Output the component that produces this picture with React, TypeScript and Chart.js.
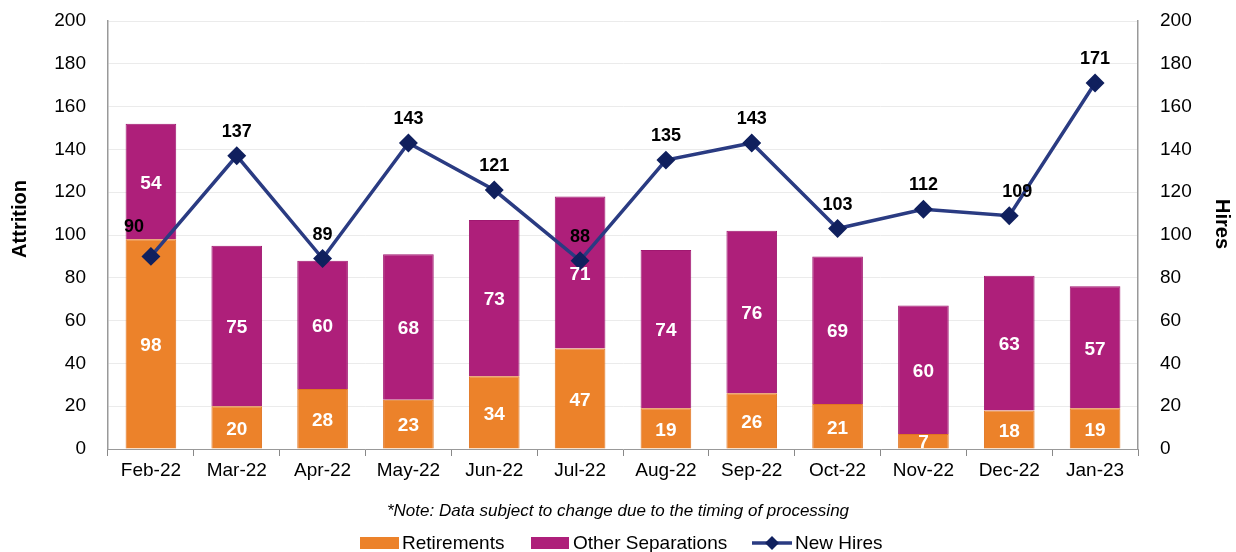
import React, { useEffect, useRef } from "react";
import { Chart, registerables } from "chart.js";

Chart.register(...registerables);

const categories = ["Feb-22", "Mar-22", "Apr-22", "May-22", "Jun-22", "Jul-22", "Aug-22", "Sep-22", "Oct-22", "Nov-22", "Dec-22", "Jan-23"];
const retirements = [98, 20, 28, 23, 34, 47, 19, 26, 21, 7, 18, 19];
const otherSeparations = [54, 75, 60, 68, 73, 71, 74, 76, 69, 60, 63, 57];
const newHires = [90, 137, 89, 143, 121, 88, 135, 143, 103, 112, 109, 171];
const noteText = "*Note: Data subject to change due to the timing of processing";

const ORANGE = "#EC822A";
const MAGENTA = "#AE1F7A";
const NAVY_LINE = "#2A3B82";
const NAVY_PT = "#10205E";
const FONT = "'Liberation Sans', Arial, sans-serif";

const labelPlugin = {
  id: "labels",
  afterDatasetsDraw(chart: any) {
    const ctx = chart.ctx;
    ctx.save();
    ctx.font = `bold 19px ${FONT}`;
    ctx.textAlign = "center";
    ctx.textBaseline = "middle";
    [0, 1].forEach((di) => {
      const meta = chart.getDatasetMeta(di);
      meta.data.forEach((bar: any, i: number) => {
        const v = chart.data.datasets[di].data[i];
        const p = bar.getProps(["x", "y", "base"], true);
        ctx.fillStyle = "#ffffff";
        ctx.fillText(String(v), p.x, (p.y + p.base) / 2 + 2);
      });
    });
    ctx.font = `bold 18px ${FONT}`;
    const lm = chart.getDatasetMeta(2);
    lm.data.forEach((pt: any, i: number) => {
      const v = chart.data.datasets[2].data[i];
      ctx.fillStyle = "#000000";
      let x = pt.x;
      let y = pt.y - 24;
      if (i === 0) { x = pt.x - 17; y = pt.y - 29; }
      if (i === 10) { x = pt.x + 8; }
      ctx.fillText(String(v), x, y);
    });
    ctx.restore();
  },
  afterDraw(chart: any) {
    const ctx = chart.ctx;
    ctx.save();
    ctx.fillStyle = "#000";
    ctx.font = `bold 20px ${FONT}`;
    ctx.textAlign = "center";
    ctx.textBaseline = "middle";
    ctx.save();
    ctx.translate(20, 219);
    ctx.rotate(-Math.PI / 2);
    ctx.fillText("Attrition", 0, 0);
    ctx.restore();
    ctx.save();
    ctx.translate(1222, 224);
    ctx.rotate(Math.PI / 2);
    ctx.fillText("Hires", 0, 0);
    ctx.restore();
    ctx.font = `italic 17px ${FONT}`;
    ctx.fillText(noteText, 618, 511);
    ctx.font = `19px ${FONT}`;
    ctx.textAlign = "left";
    const y = 543;
    ctx.fillStyle = ORANGE;
    ctx.fillRect(360, y - 6, 39, 12);
    ctx.fillStyle = "#000";
    ctx.fillText("Retirements", 402, y + 1);
    ctx.fillStyle = MAGENTA;
    ctx.fillRect(531, y - 6, 38, 12);
    ctx.fillStyle = "#000";
    ctx.fillText("Other Separations", 573, y + 1);
    ctx.strokeStyle = NAVY_LINE;
    ctx.lineWidth = 3.5;
    ctx.beginPath();
    ctx.moveTo(752, y);
    ctx.lineTo(792, y);
    ctx.stroke();
    ctx.fillStyle = NAVY_PT;
    ctx.beginPath();
    ctx.moveTo(772, y - 7);
    ctx.lineTo(779, y);
    ctx.lineTo(772, y + 7);
    ctx.lineTo(765, y);
    ctx.closePath();
    ctx.fill();
    ctx.fillStyle = "#000";
    ctx.fillText("New Hires", 795, y + 1);
    ctx.restore();
  },
};

export default function App() {
  const ref = useRef<HTMLCanvasElement>(null);
  useEffect(() => {
    document.body.style.margin = "0";
    const chart = new Chart(ref.current as HTMLCanvasElement, {
      type: "bar",
      data: {
        labels: categories,
        datasets: [
          {
            type: "bar",
            label: "Retirements",
            data: retirements,
            backgroundColor: ORANGE,
            borderColor: "#E07520",
            borderWidth: 1,
            yAxisID: "y",
            stack: "s",
            barPercentage: 0.59,
            categoryPercentage: 1,
            order: 2,
          },
          {
            type: "bar",
            label: "Other Separations",
            data: otherSeparations,
            backgroundColor: MAGENTA,
            borderColor: "#A01870",
            borderWidth: 1,
            yAxisID: "y",
            stack: "s",
            barPercentage: 0.59,
            categoryPercentage: 1,
            order: 2,
          },
          {
            type: "line",
            label: "New Hires",
            data: newHires,
            borderColor: NAVY_LINE,
            borderWidth: 3.5,
            pointStyle: "rectRot",
            pointRadius: 7,
            pointBackgroundColor: NAVY_PT,
            pointBorderColor: NAVY_PT,
            yAxisID: "y1",
            tension: 0,
            order: 1,
          } as any,
        ],
      },
      options: {
        responsive: false,
        animation: false,
        layout: { padding: { top: 21, left: 0, right: 0, bottom: 0 } },
        plugins: { legend: { display: false }, tooltip: { enabled: false } },
        scales: {
          x: {
            stacked: true,
            offset: true,
            grid: { offset: true, drawOnChartArea: false, drawTicks: true, tickLength: 7, color: "#888" },
            border: { color: "#999" },
            ticks: { color: "#000", font: { family: FONT, size: 19 }, padding: 3, maxRotation: 0 },
            afterFit(scale: any) { scale.height = 103; scale.paddingLeft = 0; scale.paddingRight = 0; },
          },
          y: {
            stacked: true,
            position: "left",
            min: 0,
            max: 200,
            ticks: { stepSize: 20, color: "#000", font: { family: FONT, size: 19 }, padding: 22 },
            grid: { color: "#ebebeb", drawTicks: false },
            border: { color: "#999", width: 1.5 },
            afterFit(scale: any) { scale.width = 108; scale.paddingTop = 0; scale.paddingBottom = 0; },
          },
          y1: {
            position: "right",
            min: 0,
            max: 200,
            ticks: { stepSize: 20, color: "#000", font: { family: FONT, size: 19 }, padding: 22 },
            grid: { drawOnChartArea: false, drawTicks: false },
            border: { color: "#999", width: 1.5 },
            afterFit(scale: any) { scale.width = 98; scale.paddingTop = 0; scale.paddingBottom = 0; },
          },
        },
      } as any,
      plugins: [labelPlugin],
    });
    return () => chart.destroy();
  }, []);
  return <canvas ref={ref} width={1236} height={552} style={{ display: "block" }} />;
}
